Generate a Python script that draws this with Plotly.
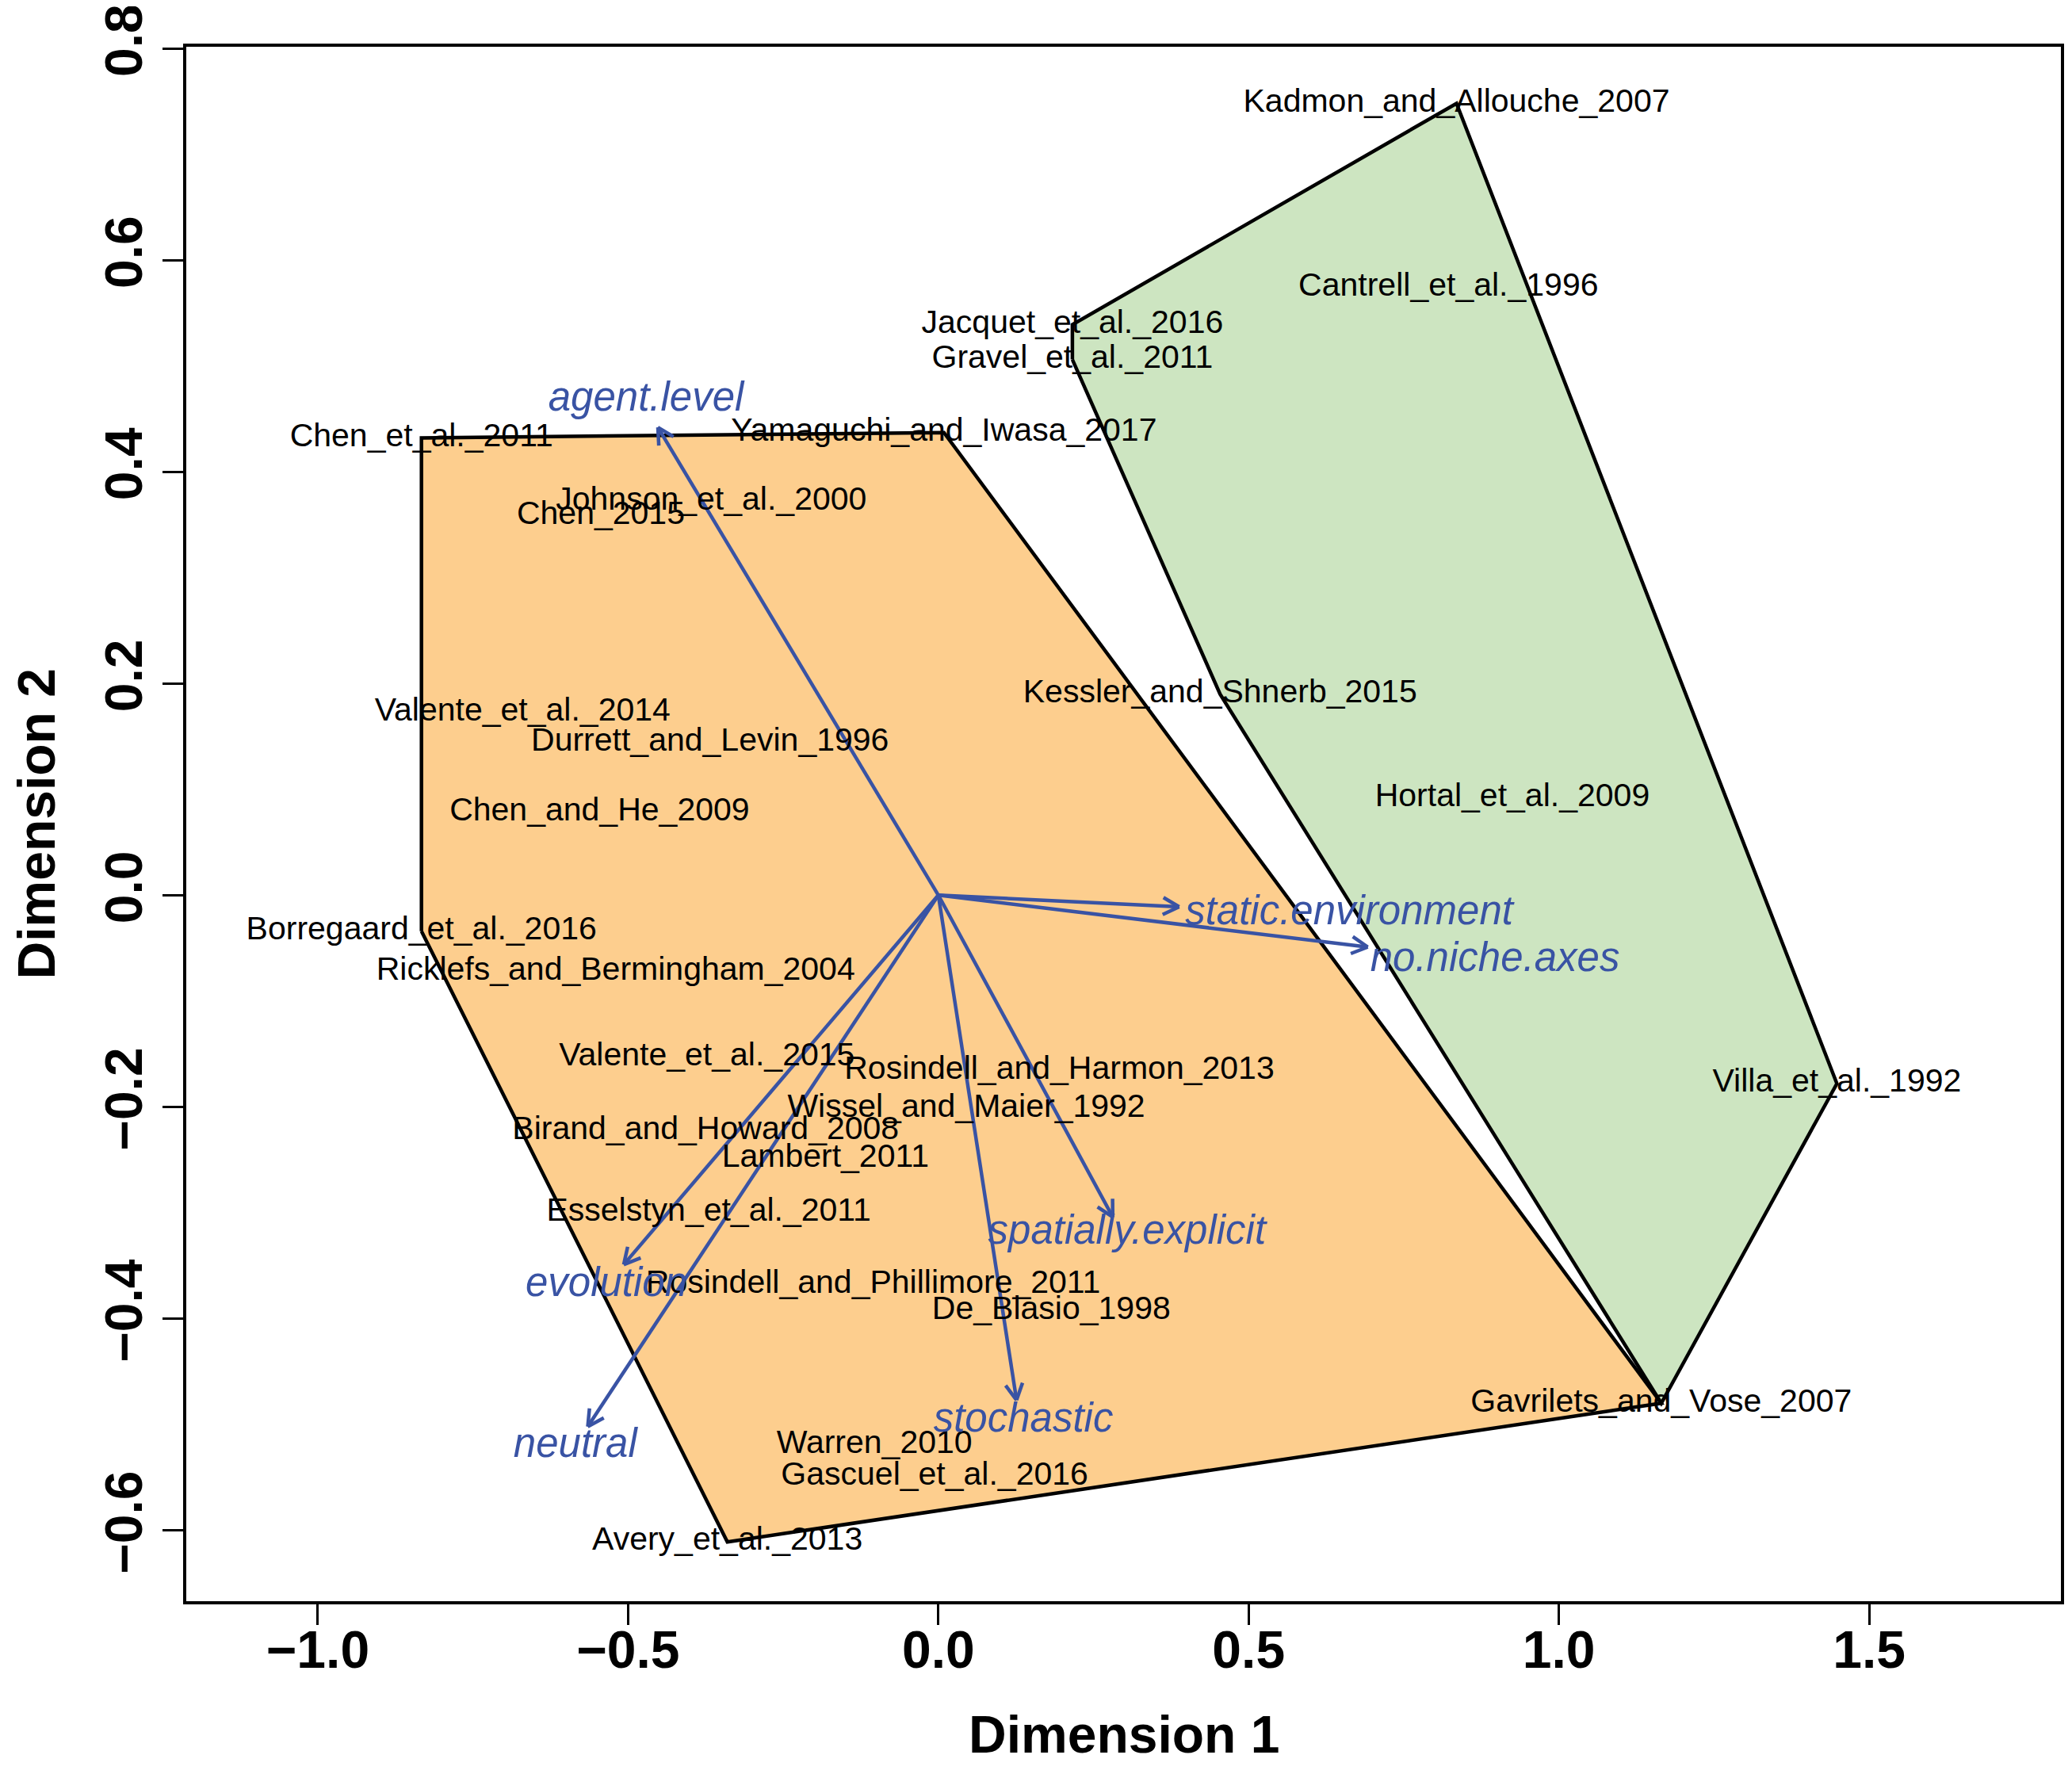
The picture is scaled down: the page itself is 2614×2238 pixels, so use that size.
import numpy as np
import plotly.graph_objects as go

# study scores on the two ordination dimensions
studies = [
    "Chen_et_al._2011", "Yamaguchi_and_Iwasa_2017", "Johnson_et_al._2000", "Chen_2015",
    "Valente_et_al._2014", "Durrett_and_Levin_1996", "Chen_and_He_2009", "Borregaard_et_al._2016",
    "Ricklefs_and_Bermingham_2004", "Valente_et_al._2015", "Rosindell_and_Harmon_2013",
    "Wissel_and_Maier_1992", "Birand_and_Howard_2008", "Lambert_2011", "Esselstyn_et_al._2011",
    "Rosindell_and_Phillimore_2011", "De_Blasio_1998", "Warren_2010", "Gascuel_et_al._2016",
    "Avery_et_al._2013", "Gavrilets_and_Vose_2007",
    "Kadmon_and_Allouche_2007", "Cantrell_et_al._1996", "Jacquet_et_al._2016", "Gravel_et_al._2011",
    "Kessler_and_Shnerb_2015", "Hortal_et_al._2009", "Villa_et_al._1992",
]
dim1 = [-0.833, 0.009, -0.366, -0.544, -0.670, -0.368, -0.546, -0.833,
        -0.520, -0.373, 0.195, 0.045, -0.375, -0.182, -0.370,
        -0.105, 0.182, -0.103, -0.006, -0.340, 1.165,
        0.835, 0.822, 0.216, 0.216, 0.454, 0.925, 1.448]
dim2 = [0.432, 0.437, 0.372, 0.358, 0.173, 0.144, 0.078, -0.034,
        -0.072, -0.153, -0.166, -0.202, -0.223, -0.249, -0.300,
        -0.368, -0.393, -0.519, -0.549, -0.611, -0.480,
        0.748, 0.574, 0.539, 0.506, 0.190, 0.092, -0.178]

# cluster membership for the hulls (Gavrilets sits on both)
cluster_orange = studies[:21]
cluster_green = studies[20:]

# fitted variable vectors
variables = ["agent.level", "static.environment", "no.niche.axes", "spatially.explicit",
             "stochastic", "evolution", "neutral"]
vec_x = [-0.452, 0.388, 0.692, 0.281, 0.126, -0.507, -0.565]
vec_y = [0.442, -0.011, -0.049, -0.304, -0.477, -0.349, -0.502]
vec_lab_x = [-0.471, 0.662, 0.897, 0.304, 0.137, -0.535, -0.585]
vec_lab_y = [0.467, -0.018, -0.062, -0.320, -0.497, -0.369, -0.521]

# page body has an 8px margin, so the figure is made that much smaller
PAD = 8
W, H = 2614 - 2 * PAD, 2238 - 2 * PAD
ML, MR, MT, MB = 235 - PAD, 14 - PAD, 59 - PAD, 218 - PAD
XR = [-1.212, 1.809]
YR = [-0.667, 0.8015]
FONT = "Liberation Sans, Arial, Helvetica, sans-serif"
BLUE = "#3953A4"

pos = dict(zip(studies, zip(dim1, dim2)))


def hull(names):
    pts = sorted(set(pos[n] for n in names))

    def cross(o, a, b):
        return (a[0] - o[0]) * (b[1] - o[1]) - (a[1] - o[1]) * (b[0] - o[0])
    lower, upper = [], []
    for p in pts:
        while len(lower) >= 2 and cross(lower[-2], lower[-1], p) <= 0:
            lower.pop()
        lower.append(p)
    for p in reversed(pts):
        while len(upper) >= 2 and cross(upper[-2], upper[-1], p) <= 0:
            upper.pop()
        upper.append(p)
    h = lower[:-1] + upper[:-1]
    h.append(h[0])
    return [p[0] for p in h], [p[1] for p in h]


fig = go.Figure()

for names, fill in [(cluster_orange, "#FDCE8E"), (cluster_green, "#CDE5C1")]:
    hx, hy = hull(names)
    fig.add_trace(go.Scatter(x=hx, y=hy, mode="lines", fill="toself", fillcolor=fill,
                             line=dict(color="black", width=4.5), hoverinfo="skip"))

# arrows with open V heads, built in pixel space so the heads look right
sx = (W - ML - MR) / (XR[1] - XR[0])
sy = (H - MT - MB) / (YR[1] - YR[0])
head_len, head_ang = 23, np.radians(28)
ax, ay = [], []
for x, y in zip(vec_x, vec_y):
    ax += [0, x, None]
    ay += [0, y, None]
    dx, dy = x * sx, y * sy
    n = np.hypot(dx, dy)
    ux, uy = dx / n, dy / n
    for s in (1, -1):
        c, si = np.cos(s * head_ang), np.sin(s * head_ang)
        bx = -(ux * c - uy * si) * head_len
        by = -(ux * si + uy * c) * head_len
        ax += [x + bx / sx, x, None]
        ay += [y + by / sy, y, None]
fig.add_trace(go.Scatter(x=ax, y=ay, mode="lines", line=dict(color=BLUE, width=4.5),
                         hoverinfo="skip"))

fig.add_trace(go.Scatter(x=dim1, y=dim2, mode="text", text=studies, textposition="middle center",
                         textfont=dict(family=FONT, size=41, color="black"), hoverinfo="skip"))
fig.add_trace(go.Scatter(x=vec_lab_x, y=vec_lab_y, mode="text", text=variables,
                         textposition="middle center",
                         textfont=dict(family=FONT, size=51, color=BLUE, style="italic"),
                         hoverinfo="skip"))

axis_common = dict(showgrid=False, zeroline=False, showline=True, linecolor="black", linewidth=4,
                   mirror=True, ticks="outside", ticklen=26, tickwidth=2.5, tickcolor="black",
                   ticklabeloverflow="allow",
                   tickfont=dict(family=FONT, size=66, color="black", weight="bold"))
fig.update_xaxes(range=XR, tickvals=[-1.0, -0.5, 0.0, 0.5, 1.0, 1.5], tickformat=".1f",
                 ticklabelstandoff=-25, **axis_common)
fig.update_yaxes(range=YR, tickvals=[-0.6, -0.4, -0.2, 0.0, 0.2, 0.4, 0.6, 0.8], tickformat=".1f",
                 tickangle=-90, **axis_common)

fig.add_annotation(text="Dimension 1", xref="paper", yref="paper", x=0.5, y=0, yanchor="middle",
                   yshift=-168, showarrow=False,
                   font=dict(family=FONT, size=66, color="black", weight="bold"))
fig.add_annotation(text="Dimension 2", xref="paper", yref="paper", x=0, y=0.5, xanchor="center",
                   xshift=-190, textangle=-90, showarrow=False,
                   font=dict(family=FONT, size=66, color="black", weight="bold"))

fig.update_layout(width=W, height=H, showlegend=False, plot_bgcolor="white", paper_bgcolor="white",
                  margin=dict(l=ML, r=MR, t=MT, b=MB, autoexpand=False))

fig.write_html("out.html")
